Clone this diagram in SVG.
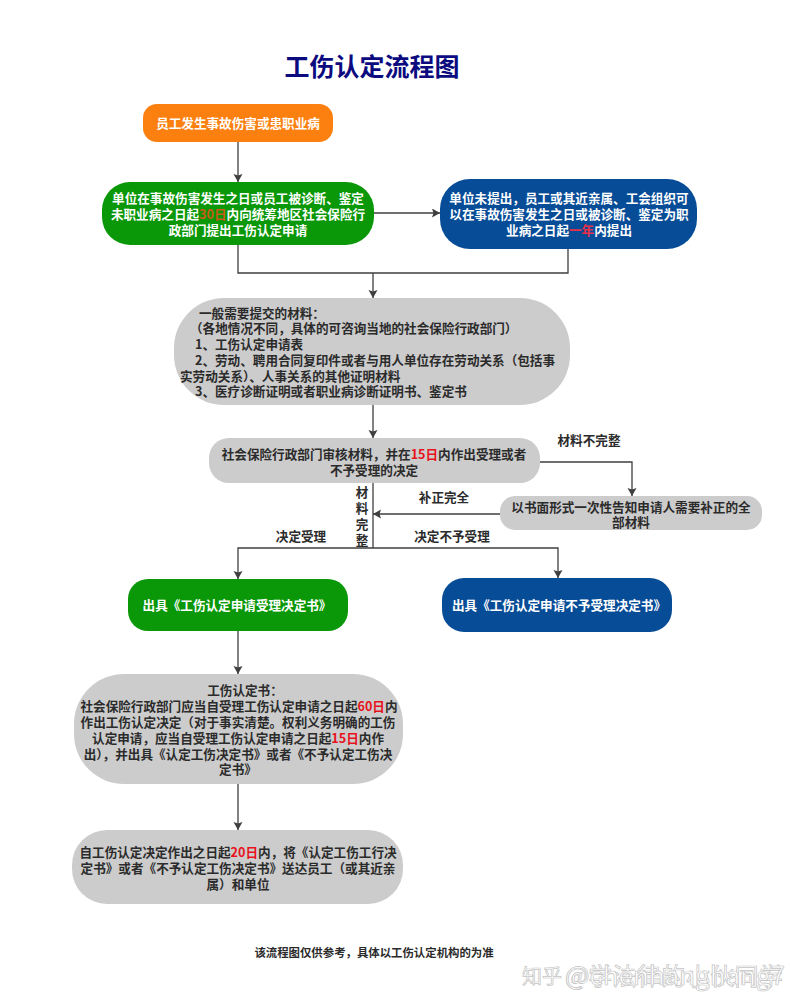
<svg xmlns="http://www.w3.org/2000/svg" width="800" height="1006" viewBox="0 0 800 1006">
<style>
text{font-family:"Noto Sans CJK SC","Liberation Sans",sans-serif;font-weight:700;font-size:12.6px;text-anchor:middle}
.w{fill:#fff}.d{fill:#2b2b2b}.l{text-anchor:start}
.r{fill:#e8121c}.o{fill:#c8591a}
.c{fill:none;stroke:#3f3f3f;stroke-width:1.3}
.or{fill:#fb8010}.gr{fill:#0a9708}.bl{fill:#074c97}.gy{fill:#cccccc}
.wm{font-weight:400;fill:#fff;stroke:#c4c4c4;stroke-width:.7;text-anchor:start}
</style>
<defs><marker id="a" markerWidth="8" markerHeight="11" refX="8" refY="4.5" orient="auto" markerUnits="userSpaceOnUse"><path d="M0 0L8 4.5L0 9L1.5 4.5Z" fill="#3f3f3f"/></marker></defs>
<rect width="800" height="1006" fill="#fff"/>
<text x="372" y="76" style="font-size:25px;fill:#0b0b7f">工伤认定流程图</text>
<g id="connectors">
<path class="c" d="M238 142V182" marker-end="url(#a)"/>
<path class="c" d="M374 213H440" marker-end="url(#a)"/>
<path class="c" d="M238 245V273H568V249"/>
<path class="c" d="M373 273V298" marker-end="url(#a)"/>
<path class="c" d="M373 405V438" marker-end="url(#a)"/>
<path class="c" d="M540 462H632V496" marker-end="url(#a)"/>
<path class="c" d="M500 514H373" marker-end="url(#a)"/>
<path class="c" d="M373 483V548"/>
<path class="c" d="M373 548H238V579" marker-end="url(#a)"/>
<path class="c" d="M373 548H558V578" marker-end="url(#a)"/>
<path class="c" d="M238 631V674" marker-end="url(#a)"/>
<path class="c" d="M238 784V830" marker-end="url(#a)"/>
</g>
<g id="n1"><rect class="or" x="143" y="104" width="190" height="38" rx="14"/><text class="w" x="238" y="128">员工发生事故伤害或患职业病</text></g>
<g id="n2"><rect class="gr" x="102" y="182" width="272" height="63" rx="28"/>
<text class="w" x="238" y="203">单位在事故伤害发生之日或员工被诊断、鉴定</text>
<text class="w" x="238" y="219">未职业病之日起<tspan class="o">30日</tspan>内向统筹地区社会保险行</text>
<text class="w" x="238" y="235">政部门提出工伤认定申请</text></g>
<g id="n3"><rect class="bl" x="440" y="179" width="257" height="70" rx="30"/>
<text class="w" x="569" y="203">单位未提出，员工或其近亲属、工会组织可</text>
<text class="w" x="569" y="219">以在事故伤害发生之日或被诊断、鉴定为职</text>
<text class="w" x="569" y="235">业病之日起<tspan fill="#e8304a">一年</tspan>内提出</text></g>
<g id="n4"><rect class="gy" x="174" y="298" width="396" height="107" rx="50"/>
<text class="d l" x="199" y="318">一般需要提交的材料：</text>
<text class="d l" x="190" y="333">（各地情况不同，具体的可咨询当地的社会保险行政部门）</text>
<text class="d l" x="195" y="349">1、工伤认定申请表</text>
<text class="d l" x="195" y="365">2、劳动、聘用合同复印件或者与用人单位存在劳动关系（包括事</text>
<text class="d l" x="180" y="381">实劳动关系）、人事关系的其他证明材料</text>
<text class="d l" x="195" y="396">3、医疗诊断证明或者职业病诊断证明书、鉴定书</text></g>
<g id="n5"><rect class="gy" x="209" y="438" width="331" height="45" rx="20"/>
<text class="d" x="374" y="459">社会保险行政部门审核材料，并在<tspan class="r">15日</tspan>内作出受理或者</text>
<text class="d" x="374" y="475">不予受理的决定</text></g>
<g id="n6"><rect class="gy" x="500" y="496" width="262" height="34" rx="15"/>
<text class="d" x="631" y="512">以书面形式一次性告知申请人需要补正的全</text>
<text class="d" x="631" y="527">部材料</text></g>
<g id="n7"><rect class="gr" x="128" y="579" width="220" height="52" rx="20"/><text class="w" x="237" y="610">出具《工伤认定申请受理决定书》</text></g>
<g id="n8"><rect class="bl" x="442" y="578" width="230" height="54" rx="22"/><text class="w" x="559" y="610">出具《工伤认定申请不予受理决定书》</text></g>
<g id="n9"><rect class="gy" x="74" y="674" width="329" height="110" rx="50"/>
<text class="d" x="245" y="695">工伤认定书：</text>
<text class="d" x="239" y="711">社会保险行政部门应当自受理工伤认定申请之日起<tspan class="r">60日</tspan>内</text>
<text class="d" x="238" y="727">作出工伤认定决定（对于事实清楚。权利义务明确的工伤</text>
<text class="d" x="238" y="743">认定申请，应当自受理工伤认定申请之日起<tspan class="r">15日</tspan>内作</text>
<text class="d" x="238" y="759">出），并出具《认定工伤决定书》或者《不予认定工伤决</text>
<text class="d" x="238" y="774">定书》</text></g>
<g id="n10"><rect class="gy" x="72" y="830" width="331" height="74" rx="35"/>
<text class="d" x="238" y="857">自工伤认定决定作出之日起<tspan class="r">20日</tspan>内，将《认定工伤工行决</text>
<text class="d" x="238" y="873">定书》或者《不予认定工伤决定书》送达员工（或其近亲</text>
<text class="d" x="238" y="889">属）和单位</text></g>
<g id="labels">
<text class="d" x="589" y="445">材料不完整</text>
<text class="d" x="444" y="502">补正完全</text>
<text class="d" x="301" y="541">决定受理</text>
<text class="d" x="452" y="541">决定不予受理</text>
<text class="d" x="362" y="497">材</text>
<text class="d" x="362" y="513">料</text>
<text class="d" x="362" y="529">完</text>
<text class="d" x="362" y="545">整</text>
<text class="d" x="374" y="957" style="font-size:11.4px">该流程图仅供参考，具体以工伤认定机构的为准</text>
</g>
<g id="watermark"><text class="wm" x="522" y="984" style="font-size:20px">知乎</text><text class="wm" x="565" y="985" style="font-size:24px" textLength="218" lengthAdjust="spacing">@学法律的小伙同学</text><text class="wm" x="565" y="985" style="font-size:26px" textLength="220" lengthAdjust="spacingAndGlyphs">@chenhanghang7</text></g>
</svg>
